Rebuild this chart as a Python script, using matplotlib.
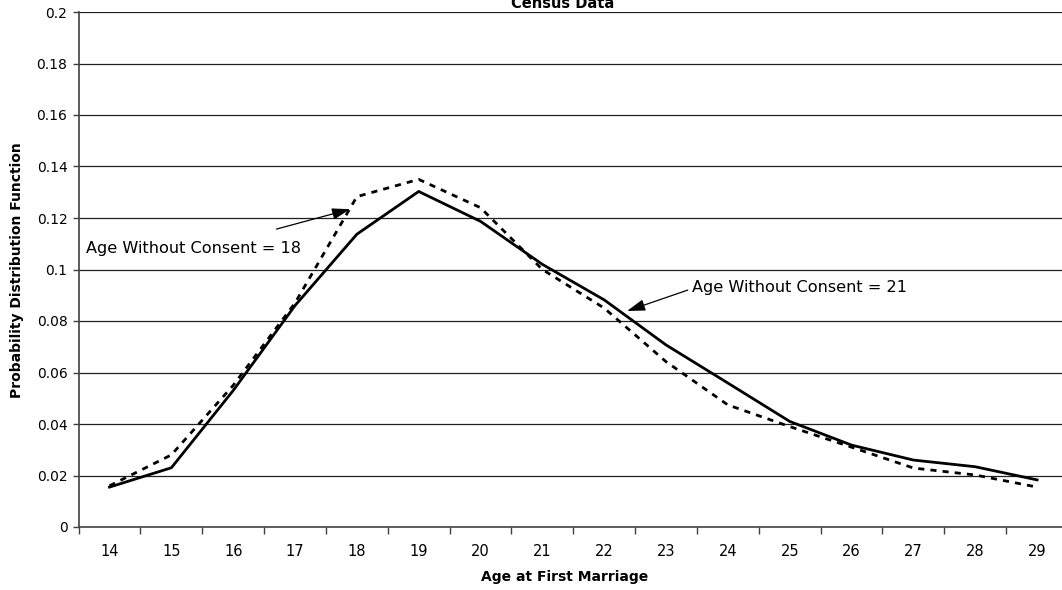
import matplotlib
matplotlib.use("Agg")
import matplotlib.pyplot as plt
import numpy as np

# ages on the category axis
ages = [14, 15, 16, 17, 18, 19, 20, 21, 22, 23, 24, 25, 26, 27, 28, 29]

# pdf values
pdf_consent_21 = [0.0155, 0.023, 0.053, 0.086, 0.1137, 0.1303, 0.1187, 0.102,
                  0.0882, 0.0707, 0.0559, 0.041, 0.0318, 0.026, 0.0234, 0.0183]
pdf_consent_18 = [0.016, 0.028, 0.055, 0.087, 0.1283, 0.1350, 0.1240, 0.100,
                  0.085, 0.0642, 0.0474, 0.039, 0.031, 0.0229, 0.0202, 0.0155]

yticks = [0, 0.02, 0.04, 0.06, 0.08, 0.1, 0.12, 0.14, 0.16, 0.18, 0.2]
ytick_labels = ["0", "0.02", "0.04", "0.06", "0.08", "0.1", "0.12", "0.14",
                "0.16", "0.18", "0.2"]

W, H = 1062, 590
fig = plt.figure(figsize=(W / 100, H / 100), dpi=100, facecolor="white")
ax = fig.add_axes([78.6 / W, (H - 527) / H, (1068 - 78.6) / W, (527 - 12) / H])

x = np.array(ages)
ax.plot(x, pdf_consent_21, color="black", lw=2.0, solid_joinstyle="miter",
        zorder=3, clip_on=False)
ax.plot(x, pdf_consent_18, color="black", lw=2.0, linestyle=(0, (2.2, 2.2)),
        zorder=3, clip_on=False)

ax.set_xlim(13.5, 29.5)
ax.set_ylim(0, 0.2)

# category axis: tick marks between categories, labels in the middle
ax.set_xticks(np.arange(13.5, 29.6, 1.0))
ax.set_xticklabels([])
ax.set_xticks(x, minor=True)
ax.set_xticklabels([str(a) for a in ages], minor=True, fontsize=10.5)
ax.tick_params(axis="x", which="major", direction="out", length=5,
               width=1, color="#404040")
ax.tick_params(axis="x", which="minor", length=0, pad=12)

ax.set_yticks(yticks)
ax.set_yticklabels(ytick_labels, fontsize=10)
ax.tick_params(axis="y", direction="out", length=4, width=1, color="#404040",
               pad=4)

for v in yticks[1:]:
    ax.axhline(v, color="#202020", lw=0.9, zorder=1)

for s in ["top", "right"]:
    ax.spines[s].set_visible(False)
for s in ["left", "bottom"]:
    ax.spines[s].set_color("#404040")
    ax.spines[s].set_linewidth(1.2)

# annotations
arrow = dict(arrowstyle="-|>,head_length=1.1,head_width=0.35", color="black",
             lw=0.9, shrinkA=0, shrinkB=0)
ax.annotate("", xy=(17.89, 0.1234), xytext=(16.70, 0.1157), arrowprops=arrow)
ax.text(13.62, 0.1083, "Age Without Consent = 18", fontsize=11.6, va="center")
ax.annotate("", xy=(22.37, 0.0839), xytext=(23.35, 0.0920), arrowprops=arrow)
ax.text(23.42, 0.0932, "Age Without Consent = 21", fontsize=11.6, va="center")

fig.text(563 / W, 1 - 4 / H, "Census Data", fontsize=10.5, fontweight="bold",
         ha="center", va="center")
fig.text(17 / W, 1 - 270 / H, "Probability Distribution Function", fontsize=10,
         fontweight="bold", rotation=90, ha="center", va="center")
fig.text(565 / W, 1 - 577 / H, "Age at First Marriage", fontsize=10,
         fontweight="bold", ha="center", va="center")

fig.savefig("out.png", dpi=100, facecolor="white")
